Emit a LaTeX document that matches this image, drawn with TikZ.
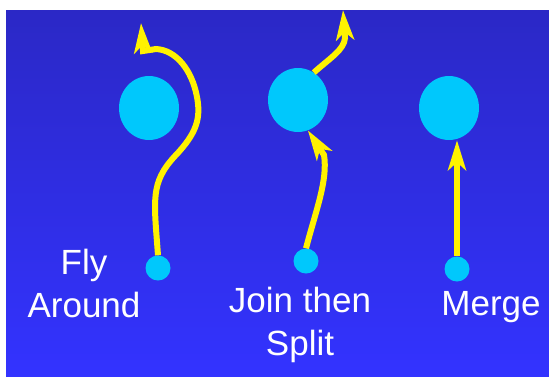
\documentclass[tikz,border=0pt]{standalone}
\usepackage{fontspec}
\setmainfont{Liberation Sans}
\usetikzlibrary{arrows.meta, shapes.geometric}

\definecolor{bgtop}{RGB}{43,40,198}
\definecolor{bgbottom}{RGB}{51,51,255}
\definecolor{dotcyan}{RGB}{0,200,252}

\begin{document}
\begin{tikzpicture}[x=1pt, y=-1pt,
    bigdot/.style={ellipse, fill=dotcyan, minimum width=60pt, minimum height=64pt, inner sep=0pt},
    smalldot/.style={circle, fill=dotcyan, minimum size=25pt, inner sep=0pt},
    flow/.style={yellow, line width=6pt, -{Stealth[length=30pt, width=18pt, inset=8pt]}},
    caption/.style={white, align=center, inner sep=0pt, font=\fontsize{35}{43}\selectfont}]
    \useasboundingbox (0,0) rectangle (549,376);
    \shade[top color=bgtop, bottom color=bgbottom] (6,10) rectangle (549,376);

    % Fly around
    \node[bigdot] (faBig) at (149,108) {};
    \node[smalldot] (fa) at (158,268) {};
    \coordinate (faTip) at (141,23);
    \draw[flow] (fa.north) .. controls (154,200) and (150,183) .. (175,156)
        .. controls (197,133) and (201,118) .. (197,97)
        .. controls (192,70) and (176,50) .. (156,49) -- (143,51) -- (faTip);
    \node[caption] (faText) at (84,283) {Fly\\Around};

    % Join then split
    \node[bigdot] (jsBig) at (298,100) {};
    \node[smalldot] (js) at (306,261) {};
    \coordinate (jsTip) at (343,10);
    \draw[flow] (js.north) .. controls (316,210) and (328,180) .. (324,155) -- (jsBig.-72);
    \draw[flow] (jsBig.60) .. controls (330,58) and (344,50) .. (345,38) -- (jsTip);
    \node[caption] (jsText) at (300,325) {Join then\\Split};

    % Merge
    \node[bigdot] (mgBig) at (449,108) {};
    \node[smalldot] (mg) at (457,269) {};
    \draw[flow] (mg.north) -- (mg.north |- mgBig.south);
    \node[caption] (mgText) at (491,307) {Merge};
\end{tikzpicture}
\end{document}
